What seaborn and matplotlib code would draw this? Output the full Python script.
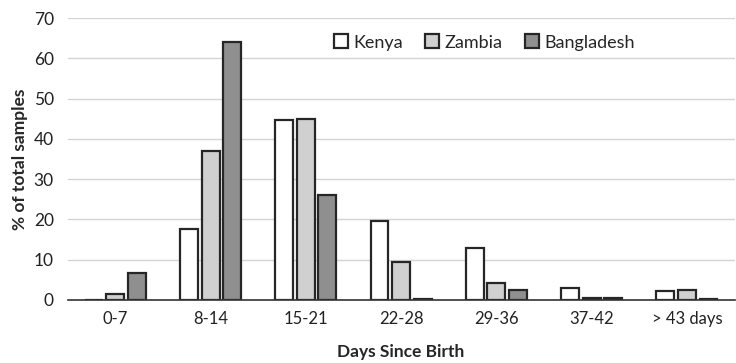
import numpy as np
import pandas as pd
import seaborn as sns
import matplotlib.pyplot as plt
from matplotlib.ticker import FixedLocator

days = ['0-7', '8-14', '15-21', '22-28', '29-36', '37-42', '> 43 days']
kenya = [0, 17.5, 44.8, 19.6, 12.8, 3.0, 2.2]
zambia = [1.5, 37.0, 45.0, 9.5, 4.3, 0.4, 2.4]
bangladesh = [6.6, 64.0, 26.0, 0.3, 2.4, 0.5, 0.2]

countries = ['Kenya', 'Zambia', 'Bangladesh']
country_colors = {'Kenya': '#ffffff', 'Zambia': '#d0d0d0', 'Bangladesh': '#8f8f8f'}

df = pd.DataFrame({'Days': days, 'Kenya': kenya, 'Zambia': zambia, 'Bangladesh': bangladesh})
df = df.melt(id_vars='Days', var_name='Country', value_name='Pct')

sns.set_style('white')
plt.rcParams['font.family'] = ['Lato', 'DejaVu Sans']

fig = plt.figure(figsize=(7.36, 3.63), dpi=100)
ax = fig.add_axes([0.092, 0.174, 0.906, 0.776])

sns.barplot(data=df, x='Days', y='Pct', hue='Country', hue_order=countries,
            palette=country_colors, width=0.68, gap=0.17,
            edgecolor='#262626', linewidth=1.6, ax=ax)

ax.set_ylim(0, 70)
ax.set_yticks(range(0, 71, 10))
ax.yaxis.grid(True, color='#d4d4d4', linewidth=1)
ax.set_axisbelow(True)
ax.set_xlim(-0.5, len(days) - 0.5)

for s in ['top', 'right', 'left']:
    ax.spines[s].set_visible(False)
ax.spines['bottom'].set_color('#333333')
ax.spines['bottom'].set_linewidth(1.2)
ax.spines['bottom'].set_zorder(5)

ax.tick_params(axis='x', which='major', length=0, pad=8, labelsize=12, colors='#222222')
ax.xaxis.set_minor_locator(FixedLocator(np.arange(-0.5, len(days), 1.0)))
ax.tick_params(axis='x', which='minor', length=6, width=1.2, color='#333333', direction='out')
ax.tick_params(axis='y', length=0, labelsize=12.5, colors='#222222', pad=10)

ax.set_xlabel('Days Since Birth', fontsize=12.5, fontweight='bold', labelpad=12)
ax.set_ylabel('% of total samples', fontsize=12.5, fontweight='bold', labelpad=4)

ax.legend(loc='upper right', bbox_to_anchor=(0.875, 1.0), ncol=3, frameon=False,
          fontsize=13, handlelength=0.8, handleheight=0.8, handletextpad=0.3,
          columnspacing=1.2, title=None)

plt.savefig('out.png', dpi=100)
